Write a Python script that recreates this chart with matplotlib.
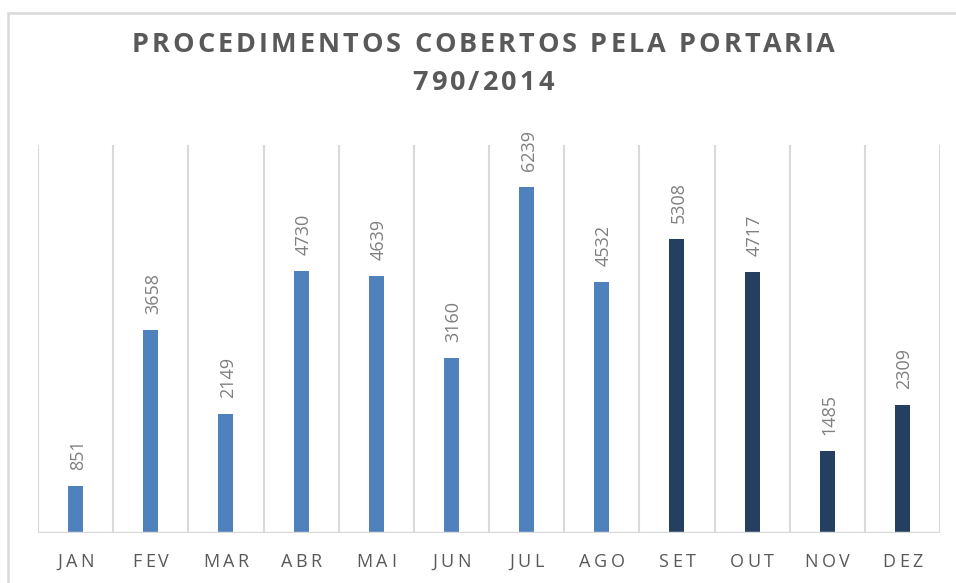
import matplotlib
matplotlib.use("Agg")
import matplotlib.pyplot as plt
from matplotlib.font_manager import FontProperties
from matplotlib.transforms import IdentityTransform
from matplotlib.patches import Rectangle

# ---- data ----
meses = ["JAN", "FEV", "MAR", "ABR", "MAI", "JUN", "JUL", "AGO", "SET", "OUT", "NOV", "DEZ"]
valores = [851, 3658, 2149, 4730, 4639, 3160, 6239, 4532, 5308, 4717, 1485, 2309]
cores = ["#4F81BD"] * 8 + ["#243F60"] * 4
titulo = ["PROCEDIMENTOS COBERTOS PELA PORTARIA", "790/2014"]

W, H, DPI = 956, 583, 100
fig = plt.figure(figsize=(W / DPI, H / DPI), dpi=DPI)
fig.patch.set_facecolor("white")

# outer chart-area border (partially visible)
fig.patches.append(Rectangle((8 / W, -0.05), 1.1, (H - 13) / H + 0.05,
                             transform=fig.transFigure, fill=False,
                             edgecolor="#D9D9D9", linewidth=1.8))

left, right, bottom, top = 38, 940, 533, 145
ax = fig.add_axes([left / W, (H - bottom) / H, (right - left) / W, (bottom - top) / H])
x = list(range(len(meses)))
ax.bar(x, valores, width=0.2, color=cores, zorder=3)
ax.set_xlim(-0.5, len(meses) - 0.5)
ax.set_ylim(0, 7000)
for s in ax.spines.values():
    s.set_visible(False)
ax.set_xticks([i - 0.5 for i in range(len(meses) + 1)])
ax.set_xticklabels([])
ax.tick_params(length=0)
ax.set_yticks([])
ax.grid(axis="x", color="#D9D9D9", linewidth=1.5, zorder=0)
ax.axhline(0, color="#D9D9D9", linewidth=2.5, zorder=4)

for xi, v in zip(x, valores):
    ax.annotate(str(v), (xi, v), xytext=(1.5, 11.5), textcoords="offset points",
                rotation=90, ha="center", va="bottom", fontsize=13,
                color="#7F7F7F", family=["Open Sans", "DejaVu Sans"])

renderer = fig.canvas.get_renderer()


def width(s, prop):
    w, _, _ = renderer.get_text_width_height_descent(s, prop, ismath=False)
    return w


def spaced_text(s, cx, y, prop, sp, color):
    ref = "|"
    wref = width(ref, prop)
    offs = [width(s[:i] + ref, prop) - wref if i > 0 else 0 for i in range(len(s) + 1)]
    total = offs[-1] + sp * (len(s) - 1)
    x0 = cx - total / 2
    for i, ch in enumerate(s):
        if ch == " ":
            continue
        fig.text(x0 + offs[i] + i * sp, y, ch, transform=IdentityTransform(),
                 fontproperties=prop, color=color, ha="left", va="baseline")


tprop = FontProperties(family="Open Sans", weight="bold", size=19.5)
spaced_text(titulo[0], 483, H - 52, tprop, 3.1, "#595959")
spaced_text(titulo[1], 483, H - 90, tprop, 3.1, "#595959")

lprop = FontProperties(family="Open Sans", size=13)
for xi, m in zip(x, meses):
    px, _ = ax.transData.transform((xi, 0))
    spaced_text(m, px, H - 567, lprop, 3.5, "#595959")

fig.savefig("out.png", dpi=DPI, facecolor="white")
